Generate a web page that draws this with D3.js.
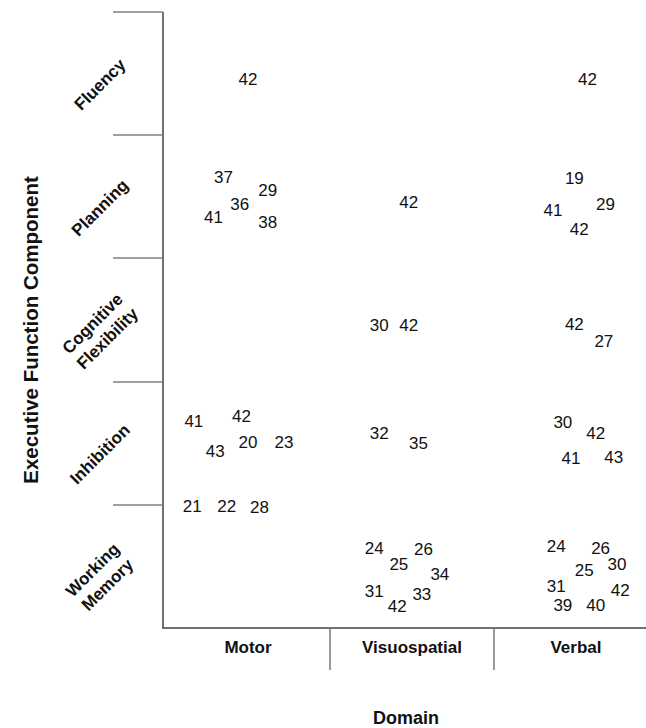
<!DOCTYPE html>
<html>
<head>
<meta charset="utf-8">
<script src="https://cdn.jsdelivr.net/npm/d3@7/dist/d3.min.js"></script>
<style>
  html, body { margin: 0; padding: 0; background: #fff; }
  svg { display: block; }
  text { font-family: "Liberation Sans", Arial, Helvetica, sans-serif; }
</style>
</head>
<body>
<svg id="chart" width="646" height="728"></svg>
<script>
// ---- Data ----
const domains = ["Motor", "Visuospatial", "Verbal"];
const components = ["Fluency", "Planning", ["Cognitive", "Flexibility"], "Inhibition", ["Working", "Memory"]];
const xTitle = "Domain";
const yTitle = "Executive Function Component";

// [study number, position along Domain axis (0-3), position along Component axis (0-5, top→bottom)]
const motorStudies = [
  [42, 0.50, 0.54],
  [37, 0.35, 1.34], [29, 0.62, 1.44], [36, 0.45, 1.56], [41, 0.29, 1.66], [38, 0.62, 1.70],
  [41, 0.17, 3.32], [42, 0.46, 3.28], [43, 0.30, 3.56], [20, 0.50, 3.49], [23, 0.72, 3.49],
  [21, 0.16, 4.01], [22, 0.37, 4.01], [28, 0.57, 4.02]
];
const visuospatialStudies = [
  [42, 1.48, 1.54],
  [30, 1.30, 2.54], [42, 1.48, 2.54],
  [32, 1.30, 3.42], [35, 1.54, 3.50],
  [24, 1.27, 4.35], [26, 1.57, 4.36], [25, 1.42, 4.48], [34, 1.67, 4.56],
  [31, 1.27, 4.70], [33, 1.56, 4.72], [42, 1.41, 4.82]
];
const verbalStudies = [
  [42, 2.57, 0.54],
  [19, 2.49, 1.35], [29, 2.68, 1.56], [41, 2.36, 1.61], [42, 2.52, 1.76],
  [42, 2.49, 2.53], [27, 2.67, 2.67],
  [30, 2.42, 3.33], [42, 2.62, 3.42], [41, 2.47, 3.62], [43, 2.73, 3.61],
  [24, 2.38, 4.33], [26, 2.65, 4.35], [30, 2.75, 4.48], [25, 2.55, 4.53],
  [31, 2.38, 4.66], [42, 2.77, 4.69], [39, 2.42, 4.81], [40, 2.62, 4.81]
];

// ---- Layout ----
const svg = d3.select("#chart");
const axisLeftX = 163;
const plotTop = 12, plotBottom = 628;

const x = d3.scaleLinear().domain([0, domains.length]).range([166, 658]);
const y = d3.scaleLinear().domain([0, components.length]).range([plotTop, plotBottom]);

const lineColor = "#808080";

// Left axis line
svg.append("line")
  .attr("x1", axisLeftX).attr("x2", axisLeftX)
  .attr("y1", plotTop).attr("y2", plotBottom + 1)
  .attr("stroke", "#707070").attr("stroke-width", 2);

// Bottom axis line
svg.append("line")
  .attr("x1", axisLeftX - 1).attr("x2", 646)
  .attr("y1", plotBottom).attr("y2", plotBottom)
  .attr("stroke", "#707070").attr("stroke-width", 2);

// Left category separators (ticks)
svg.selectAll("line.ytick")
  .data(d3.range(components.length))
  .join("line")
  .attr("class", "ytick")
  .attr("x1", 113).attr("x2", axisLeftX)
  .attr("y1", d => Math.round(y(d)) ).attr("y2", d => Math.round(y(d)))
  .attr("stroke", lineColor).attr("stroke-width", 1.6);

// Bottom category separators
svg.selectAll("line.xtick")
  .data(d3.range(1, domains.length))
  .join("line")
  .attr("class", "xtick")
  .attr("x1", d => x(d)).attr("x2", d => x(d))
  .attr("y1", plotBottom).attr("y2", 670)
  .attr("stroke", lineColor).attr("stroke-width", 1.6);

// Domain labels
svg.selectAll("text.xlab")
  .data(domains)
  .join("text")
  .attr("class", "xlab")
  .attr("x", (d, i) => x(i + 0.5))
  .attr("y", 652.5)
  .attr("text-anchor", "middle")
  .attr("font-weight", "bold")
  .attr("font-size", 17)
  .attr("fill", "#111")
  .text(d => d);

// Component labels (rotated -45)
const lineH = 21;
const compG = svg.selectAll("g.ylab")
  .data(components)
  .join("g")
  .attr("class", "ylab")
  .attr("transform", (d, i) => `translate(${104},${y(i + 0.5) + 15}) rotate(-45)`);

compG.each(function(d) {
  const lines = Array.isArray(d) ? d : [d];
  const t = d3.select(this).append("text")
    .attr("text-anchor", "middle")
    .attr("font-weight", "bold")
    .attr("font-size", 17)
    .attr("fill", "#111");
  const off = -(lines.length - 1) * lineH / 2;
  lines.forEach((ln, k) => {
    t.append("tspan").attr("x", 0).attr("y", off + k * lineH).text(ln);
  });
});

// Study numbers
const allStudies = [...motorStudies, ...visuospatialStudies, ...verbalStudies];
svg.selectAll("text.study")
  .data(allStudies)
  .join("text")
  .attr("class", "study")
  .attr("x", d => x(d[1]))
  .attr("y", d => y(d[2]))
  .attr("dy", "0.36em")
  .attr("text-anchor", "middle")
  .attr("font-size", 17)
  .attr("fill", "#111")
  .text(d => d[0]);

// Axis titles
svg.append("text")
  .attr("x", 406).attr("y", 724)
  .attr("text-anchor", "middle")
  .attr("font-weight", "bold")
  .attr("font-size", 18)
  .attr("fill", "#111")
  .text(xTitle);

svg.append("text")
  .attr("transform", `translate(38,330) rotate(-90)`)
  .attr("text-anchor", "middle")
  .attr("font-weight", "bold")
  .attr("font-size", 20.5)
  .attr("fill", "#111")
  .text(yTitle);
</script>
</body>
</html>
